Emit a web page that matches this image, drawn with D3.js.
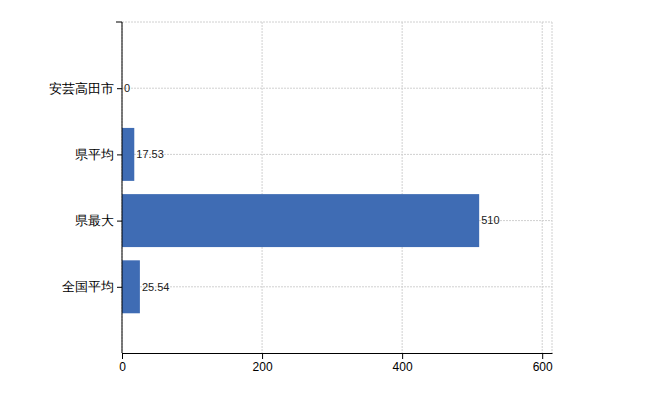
<!DOCTYPE html>
<html><head><meta charset="utf-8">
<script src="https://cdn.jsdelivr.net/npm/d3@7"></script>
<style>body{margin:0;background:#fff}</style>
</head><body>
<div id="chart"></div>
<script>
var categories = ['安芸高田市', '県平均', '県最大', '全国平均'];
var values = [0, 17.53, 510, 25.54];
var labels = ['0', '17.53', '510', '25.54'];
var ticks = [0, 200, 400, 600];

var margin = {top: 22, right: 98, bottom: 47, left: 122};
var width = 650 - margin.left - margin.right;
var height = 400 - margin.top - margin.bottom;

var svg = d3.select('#chart').append('svg')
    .attr('width', 650).attr('height', 400)
    .style('font-family', 'Arial, "Noto Sans CJK JP", sans-serif');
var g = svg.append('g').attr('transform', `translate(${margin.left}, ${margin.top})`);

var x = d3.scaleLinear().domain([0, 614]).range([0, width]);
var y = d3.scalePoint().domain(categories).range([0, height]).padding(1);
var bar_h = y.step() * 0.8;

// grid
g.selectAll('.vg').data(ticks.concat([614])).enter().append('line')
    .attr('x1', d => x(d)).attr('x2', d => x(d)).attr('y1', 0).attr('y2', height)
    .attr('stroke', '#d0d0d0').attr('stroke-dasharray', '2,1');
g.selectAll('.hg').data([null].concat(categories)).enter().append('line')
    .attr('x1', 0).attr('x2', width)
    .attr('y1', d => d === null ? 0 : y(d)).attr('y2', d => d === null ? 0 : y(d))
    .attr('stroke', '#d0d0d0').attr('stroke-dasharray', '2,1');

g.selectAll('rect').data(values).enter().append('rect')
    .attr('x', x(0)).attr('y', (d, i) => y(categories[i]) - bar_h / 2)
    .attr('width', d => x(d) - x(0)).attr('height', bar_h)
    .attr('fill', '#3f6cb4');

g.selectAll('.lbl').data(values).enter().append('text')
    .attr('x', d => x(d) + 2).attr('y', (d, i) => y(categories[i]))
    .attr('dy', '0.35em').style('font-size', '11px').attr('fill', '#222')
    .text((d, i) => labels[i]);

var xa = g.append('g').attr('transform', `translate(0, ${height})`)
    .call(d3.axisBottom(x).tickValues(ticks).tickSizeOuter(0));
xa.selectAll('text').style('font-size', '12px').attr('fill', '#000');
var ya = g.append('g').call(d3.axisLeft(y).tickSize(5).tickSizeOuter(6));
ya.selectAll('text').style('font-size', '13px').attr('fill', '#000');
ya.select('.domain').attr('d', `M-6,0H0V${height}`);
</script>
</body></html>
